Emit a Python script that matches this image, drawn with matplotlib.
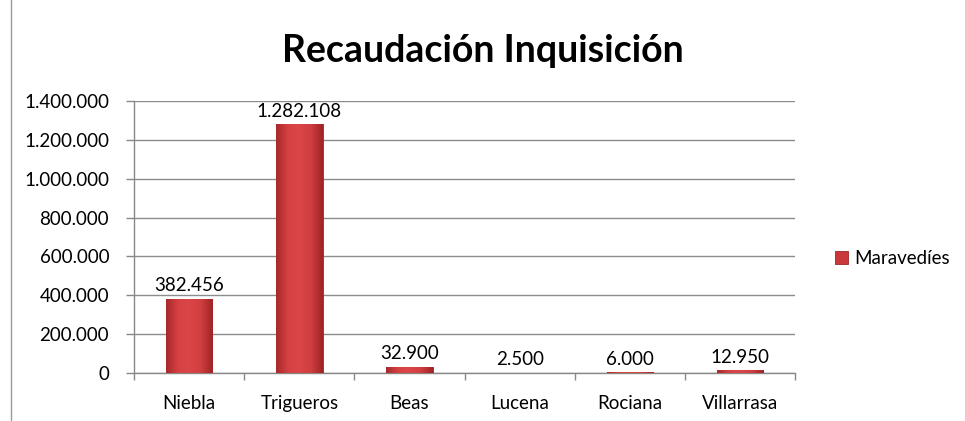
import numpy as np
import matplotlib.pyplot as plt
from matplotlib.colors import LinearSegmentedColormap

# data
pueblos = ['Niebla', 'Trigueros', 'Beas', 'Lucena', 'Rociana', 'Villarrasa']
maravedies = [382456, 1282108, 32900, 2500, 6000, 12950]
etiquetas = ['382.456', '1.282.108', '32.900', '2.500', '6.000', '12.950']
yticks = [0, 200000, 400000, 600000, 800000, 1000000, 1200000, 1400000]


def fmt_miles(v):
    return '{:,}'.format(int(v)).replace(',', '.')


plt.rcParams['font.family'] = ['Lato', 'DejaVu Sans']

fig = plt.figure(figsize=(9.65, 4.21), dpi=100)
ax = fig.add_axes([0.139, 0.114, 0.685, 0.646])

x = np.arange(len(pueblos))
ancho = 0.42
bars = ax.bar(x, maravedies, width=ancho, color='#C9383A', edgecolor='#9A2526',
              linewidth=0.6, zorder=3, label='Maravedíes')

# bevel-ish horizontal gradient on each bar
cmap = LinearSegmentedColormap.from_list('rojo', ['#A8292B', '#D64143', '#DB4648', '#D03E40', '#A02426'])
grad = np.linspace(0, 1, 64).reshape(1, -1)
for b in bars:
    x0 = b.get_x()
    h = b.get_height()
    im = ax.imshow(grad, cmap=cmap, aspect='auto', zorder=3.5,
                   extent=[x0, x0 + b.get_width(), 0, h])
    im.set_clip_path(b)

for xi, v, t in zip(x, maravedies, etiquetas):
    ax.text(xi, v + 22000, t, ha='center', va='bottom', fontsize=13.5, zorder=5)

ax.set_xlim(-0.5, len(pueblos) - 0.5)
ax.set_ylim(0, 1400000)
ax.set_yticks(yticks)
ax.set_yticklabels([fmt_miles(v) for v in yticks], fontsize=13.5)
ax.set_xticks(x)
ax.set_xticklabels(pueblos, fontsize=13.5)
ax.set_xticks(np.arange(-0.5, len(pueblos)), minor=True)
ax.tick_params(axis='x', which='major', length=0, pad=16)
ax.tick_params(axis='x', which='minor', length=5, color='#888888', width=1)
ax.tick_params(axis='y', length=6, color='#888888', width=1, pad=12)

ax.grid(axis='y', color='#8c8c8c', linewidth=1, zorder=0)
for s in ['top', 'right']:
    ax.spines[s].set_visible(False)
for s in ['left', 'bottom']:
    ax.spines[s].set_color('#888888')
    ax.spines[s].set_linewidth(1)

fig.text(0.5, 0.88, 'Recaudación Inquisición', ha='center', va='center',
         fontsize=27, fontweight='bold')

ax.legend(loc='center left', bbox_to_anchor=(1.035, 0.42), frameon=False,
          fontsize=13.5, handlelength=0.7, handleheight=0.7, handletextpad=0.3)

# chart frame edge on the left
fig.add_artist(plt.Line2D([0.011, 0.011], [0, 1], color='#9a9a9a', linewidth=1))

fig.savefig('out.png', dpi=100)
